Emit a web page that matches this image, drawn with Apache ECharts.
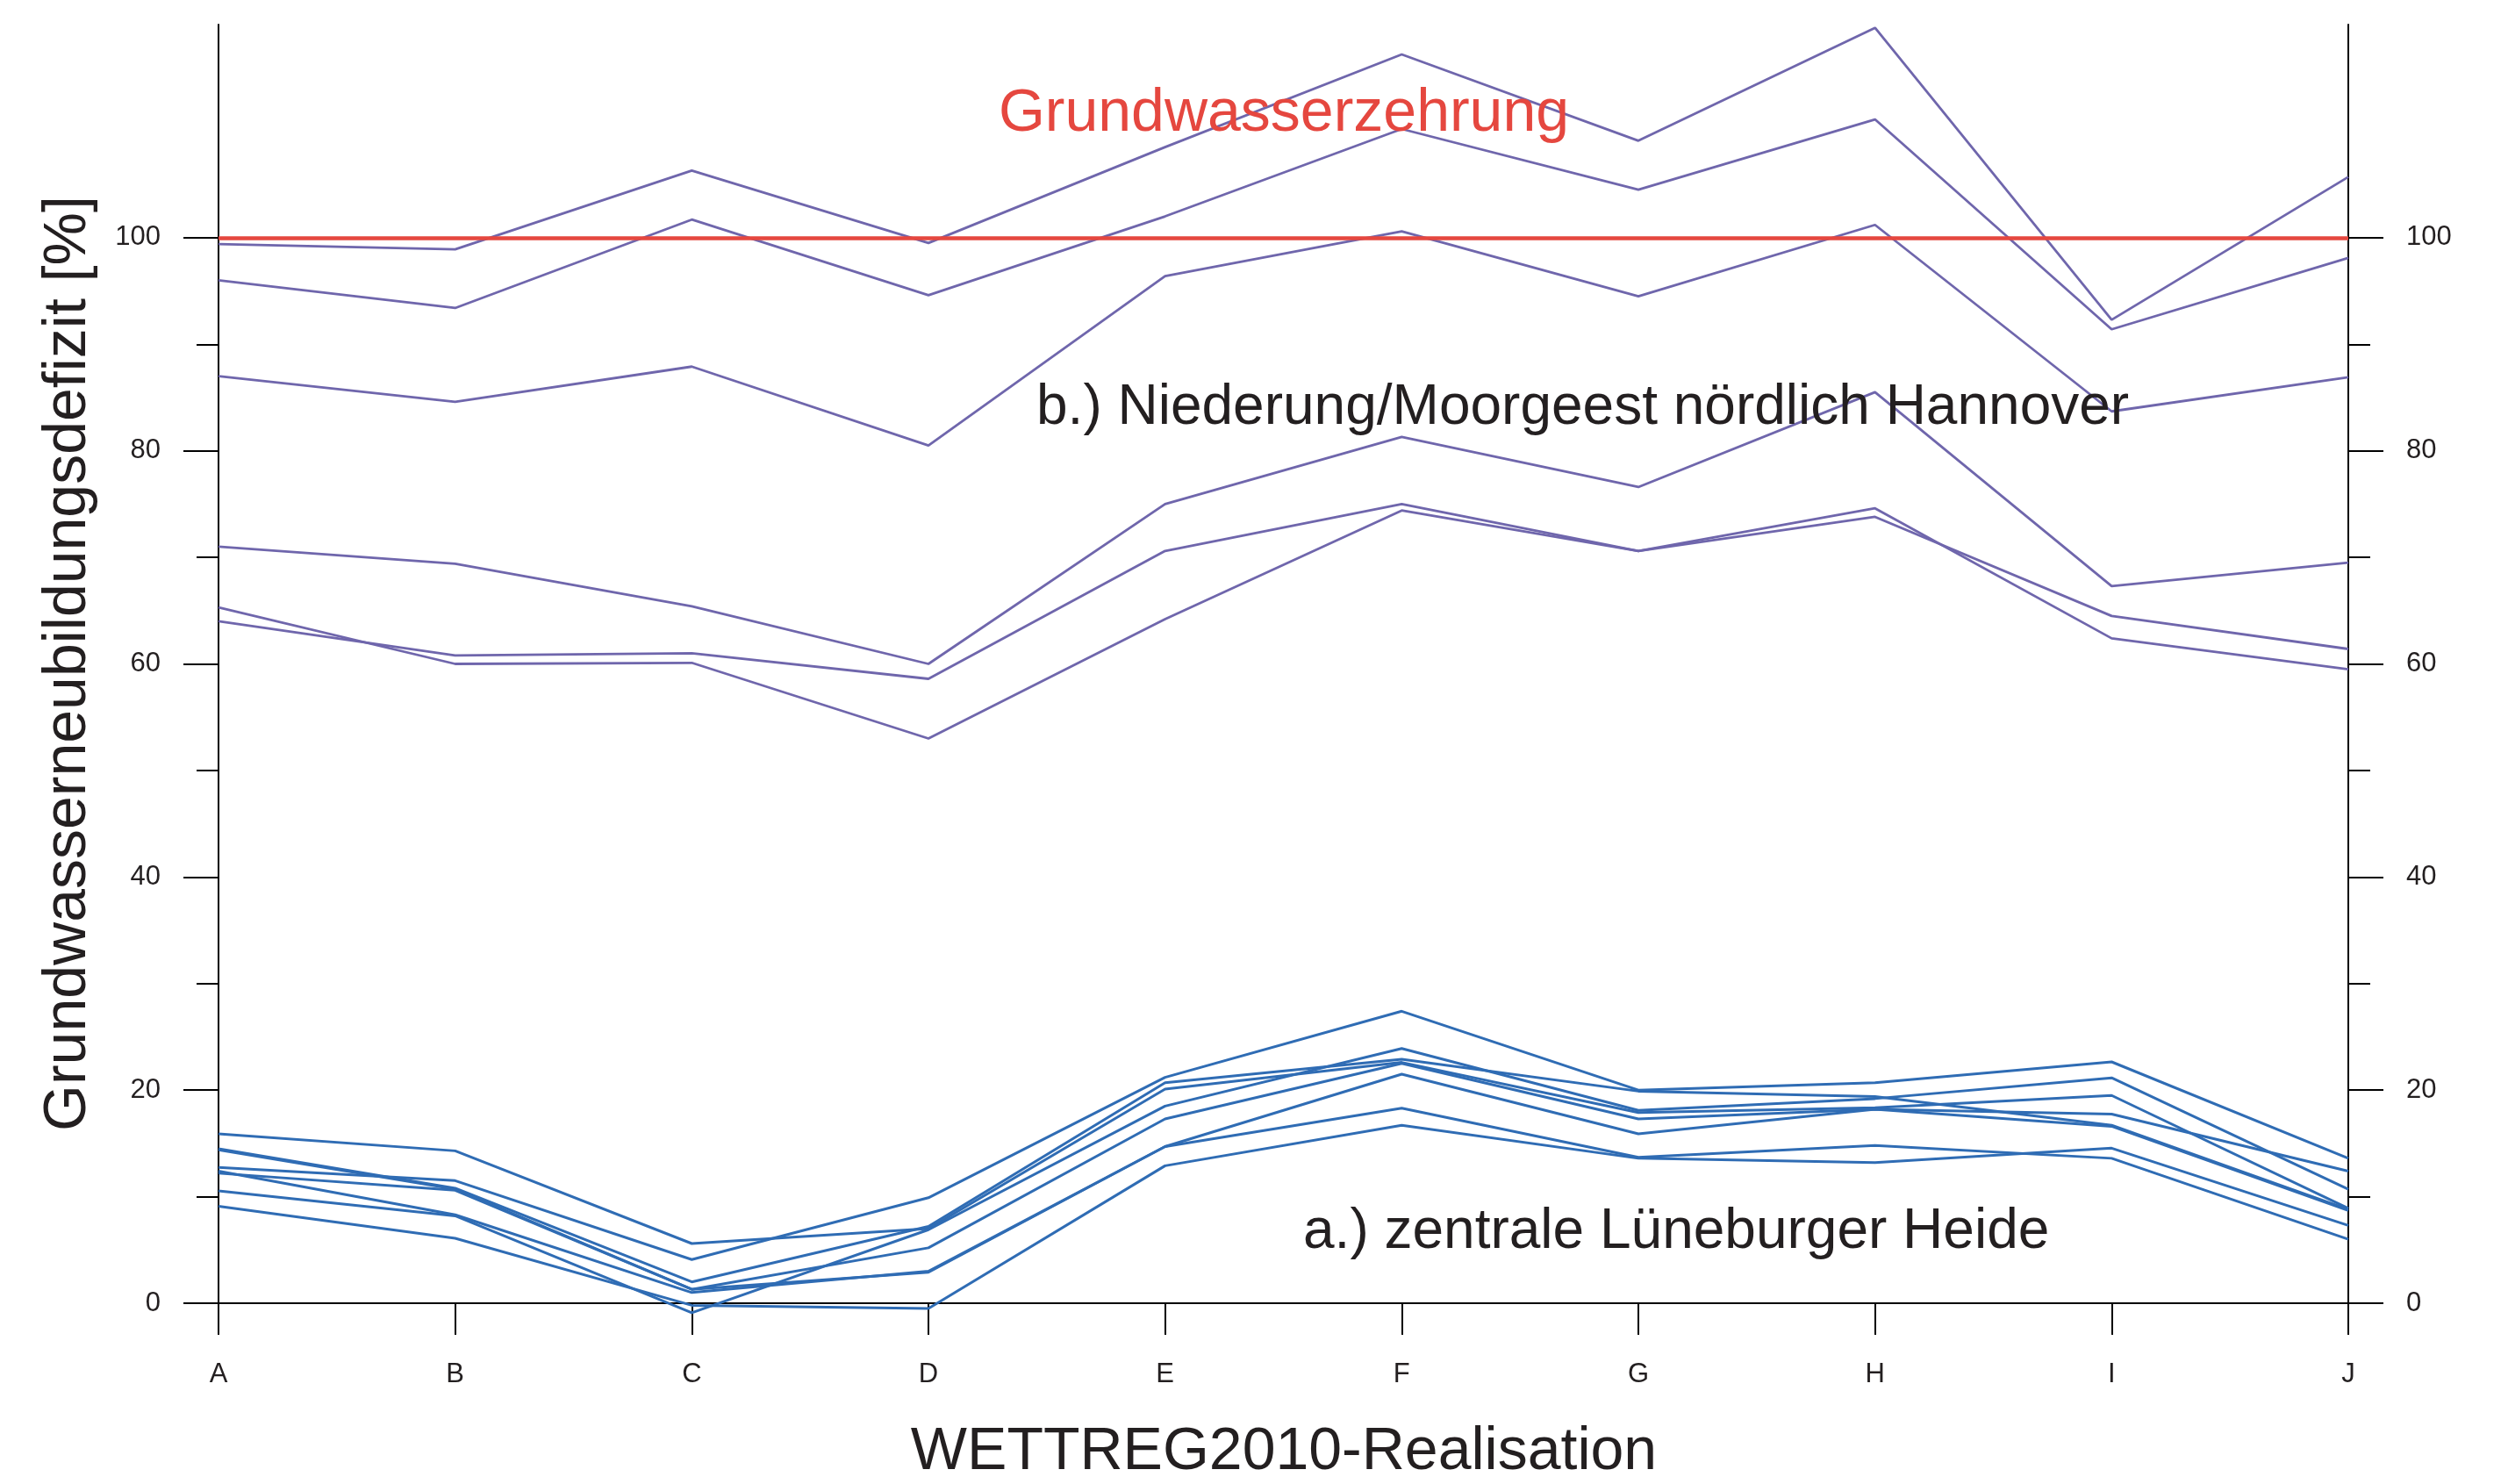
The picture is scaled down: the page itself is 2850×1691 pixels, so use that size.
<!DOCTYPE html>
<html>
<head>
<meta charset="utf-8">
<script src="https://cdn.jsdelivr.net/npm/echarts@6/dist/echarts.min.js"></script>
<style>
html,body{margin:0;padding:0;background:#ffffff;}
#chart{width:2850px;height:1691px;}
</style>
</head>
<body>
<div id="chart"></div>
<script>
// ---- data ----
const categories = ['A','B','C','D','E','F','G','H','I','J'];
const yMajorTicks = [0, 20, 40, 60, 80, 100];
const yMinorTicks = [10, 30, 50, 70, 90];
const threshold = 100;

// b.) Niederung/Moorgeest nördlich Hannover
const nied1 = [99.4, 98.9, 106.3, 99.5, 108.5, 117.2, 109.1, 119.7, 92.3, 105.7];
const nied2 = [96.0, 93.4, 101.7, 94.6, 102.0, 110.2, 104.5, 111.1, 91.4, 98.1];
const nied3 = [87.0, 84.6, 87.9, 80.5, 96.4, 100.6, 94.5, 101.2, 83.7, 86.9];
const nied4 = [71.0, 69.4, 65.4, 60.0, 75.0, 81.3, 76.6, 85.5, 67.3, 69.5];
const nied5 = [65.3, 60.0, 60.1, 53.0, 64.2, 74.4, 70.6, 74.6, 62.4, 59.5];
const nied6 = [64.0, 60.8, 61.0, 58.6, 70.6, 75.0, 70.6, 73.8, 64.5, 61.4];

// a.) zentrale Lüneburger Heide
const lue1 = [15.9, 14.3, 5.6, 7.0, 20.1, 22.6, 17.9, 18.35, 19.5, 8.9];
const lue2 = [14.5, 10.8, 2.0, 7.2, 20.7, 22.9, 19.9, 19.4, 16.7, 8.8];
const lue3 = [14.4, 10.7, 1.3, 5.2, 17.3, 22.5, 17.3, 18.2, 17.75, 12.4];
const lue4 = [12.75, 11.5, 4.1, 9.9, 21.2, 27.4, 20.0, 20.7, 22.65, 13.6];
const lue5 = [12.2, 10.6, 1.3, 2.9, 14.7, 18.3, 13.7, 14.8, 13.6, 6.0];
const lue6 = [12.4, 8.3, 1.0, 3.0, 14.7, 21.5, 15.9, 18.2, 16.6, 8.7];
const lue7 = [10.55, 8.2, -0.9, 6.9, 18.5, 23.9, 18.1, 19.2, 21.15, 10.7];
const lue8 = [9.1, 6.1, -0.2, -0.5, 12.9, 16.7, 13.6, 13.2, 14.55, 7.3];

const niederung = [nied1, nied2, nied3, nied4, nied5, nied6];
const lueneburg = [lue1, lue2, lue3, lue4, lue5, lue6, lue7, lue8];

// ---- styling ----
const FONT = '"Liberation Sans", Arial, Helvetica, sans-serif';
const INK = '#231f20';
const PURPLE = '#6f66ac';
const BLUE = '#2f6cb4';
const RED = '#e5473f';

const chart = echarts.init(document.getElementById('chart'), null, {renderer: 'canvas'});

const series = [];
niederung.forEach((d, i) => {
  const s = {
    type: 'line', data: d, yAxisIndex: 0, symbol: 'none', clip: false,
    lineStyle: {color: PURPLE, width: 2.8}, itemStyle: {color: PURPLE},
    z: 2, silent: true
  };
  if (i === 0) {
    s.markLine = {
      symbol: 'none', silent: true, label: {show: false},
      lineStyle: {color: RED, width: 4.5, type: 'solid'},
      data: [{yAxis: threshold}], z: 5
    };
  }
  series.push(s);
});
lueneburg.forEach(d => {
  series.push({
    type: 'line', data: d, yAxisIndex: 0, symbol: 'none', clip: false,
    lineStyle: {color: BLUE, width: 3}, itemStyle: {color: BLUE},
    z: 3, silent: true
  });
});

function yAx(position, ticks, len, withLine, withLabels) {
  return {
    type: 'value', min: 0, max: 120, position: position,
    axisLine: {show: withLine, lineStyle: {color: '#000', width: 2}},
    axisTick: {show: true, inside: false, length: len, customValues: ticks,
               lineStyle: {color: '#000', width: 2}},
    axisLabel: {show: withLabels, customValues: ticks, margin: 66,
                fontSize: 31, color: INK, fontFamily: FONT},
    splitLine: {show: false}
  };
}

const option = {
  animation: false,
  backgroundColor: '#ffffff',
  grid: {left: 249, right: 174, top: 28, bottom: 206, containLabel: false},
  xAxis: {
    type: 'category', data: categories, boundaryGap: false,
    axisLine: {show: true, onZero: false, lineStyle: {color: '#000', width: 2}},
    axisTick: {show: true, length: 36, lineStyle: {color: '#000', width: 2}},
    axisLabel: {margin: 66, fontSize: 31, color: INK, fontFamily: FONT},
    splitLine: {show: false}
  },
  yAxis: [
    yAx('left', yMajorTicks, 40, true, true),
    yAx('left', yMinorTicks, 25, false, false),
    yAx('right', yMajorTicks, 40, true, true),
    yAx('right', yMinorTicks, 25, false, false)
  ],
  series: series,
  graphic: [
    {type: 'text', x: 1463, y: 130, z: 10,
     style: {text: 'Grundwasserzehrung', font: '68px ' + FONT, fill: RED,
             align: 'center', verticalAlign: 'middle'}},
    {type: 'text', x: 1181, y: 465, z: 10,
     style: {text: 'b.) Niederung/Moorgeest nördlich Hannover', font: '64px ' + FONT, fill: INK,
             align: 'left', verticalAlign: 'middle'}},
    {type: 'text', x: 1485, y: 1404, z: 10,
     style: {text: 'a.) zentrale Lüneburger Heide', font: '64px ' + FONT, fill: INK,
             align: 'left', verticalAlign: 'middle'}},
    {type: 'text', x: 1463, y: 1655, z: 10,
     style: {text: 'WETTREG2010-Realisation', font: '68px ' + FONT, fill: INK,
             align: 'center', verticalAlign: 'middle'}},
    {type: 'text', x: 78, y: 756, rotation: Math.PI / 2, z: 10,
     style: {text: 'Grundwasserneubildungsdefizit [%]', font: '68px ' + FONT, fill: INK,
             align: 'center', verticalAlign: 'middle'}}
  ]
};
chart.setOption(option);
</script>
</body>
</html>
